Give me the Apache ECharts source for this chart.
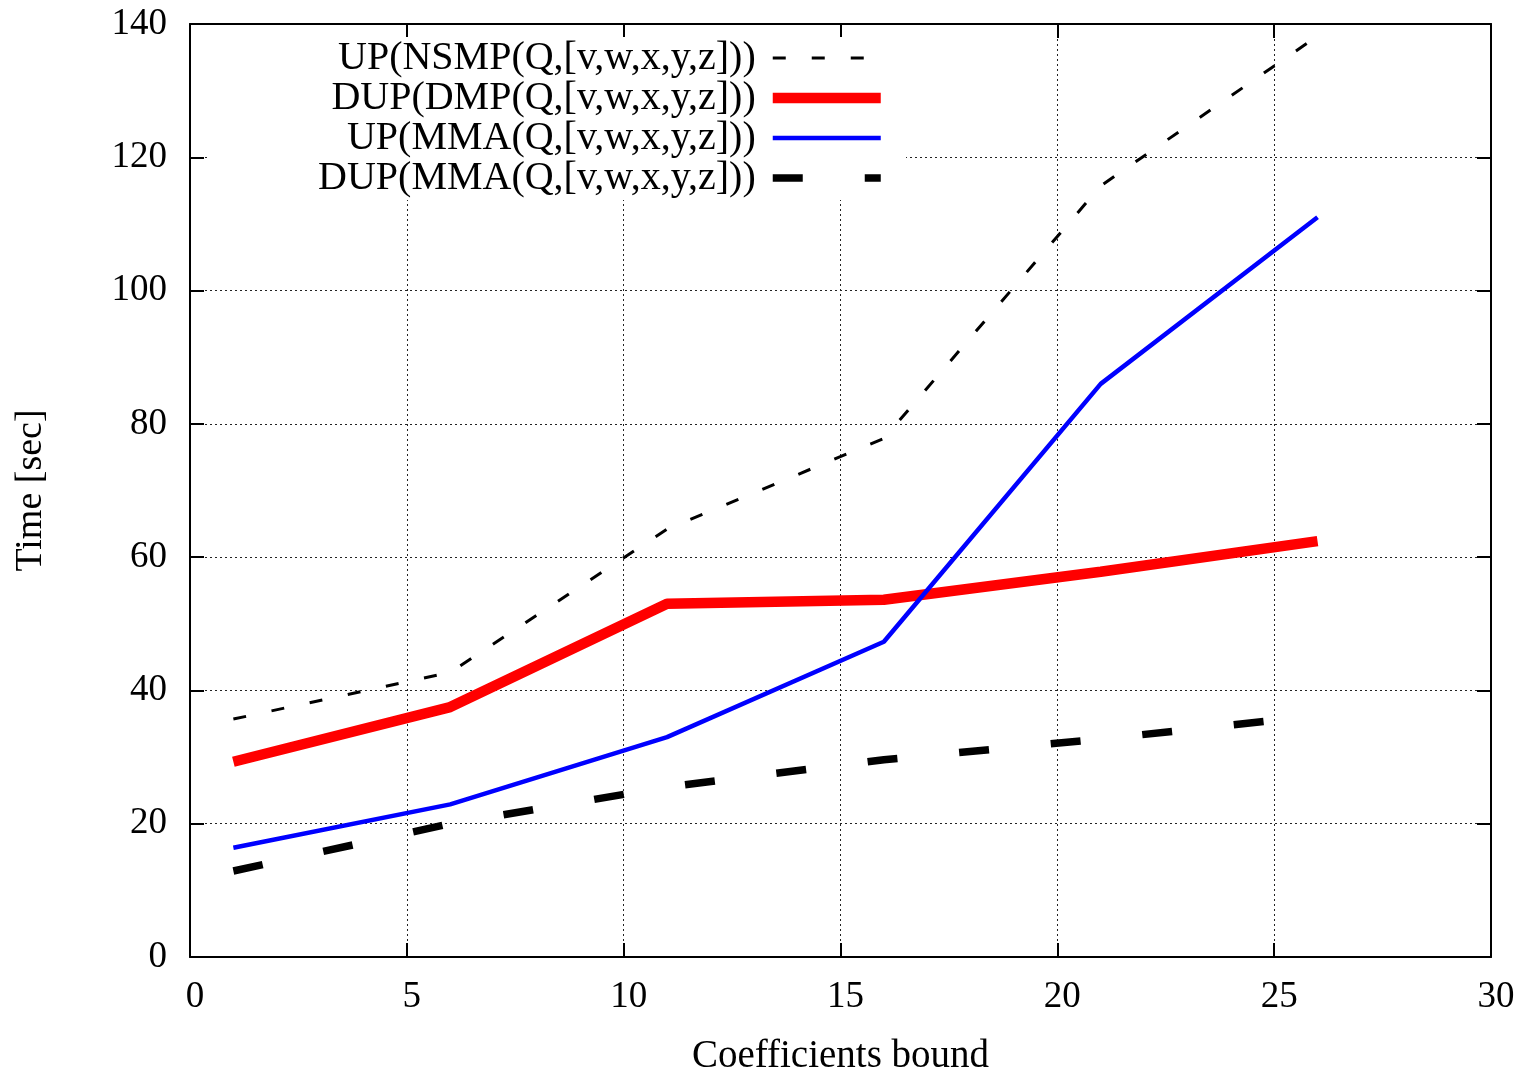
<!DOCTYPE html>
<html>
<head>
<meta charset="utf-8">
<script src="https://cdn.jsdelivr.net/npm/echarts@6/dist/echarts.min.js"></script>
<style>
  html, body { margin: 0; padding: 0; background: #fff; }
  #chart { width: 1523px; height: 1077px; }
</style>
</head>
<body>
<div id="chart"></div>
<script>
// ---- data ----
const xValues = [1, 6, 11, 16, 21, 26];
const seriesNames = [
  'UP(NSMP(Q,[v,w,x,y,z]))',
  'DUP(DMP(Q,[v,w,x,y,z]))',
  'UP(MMA(Q,[v,w,x,y,z]))',
  'DUP(MMA(Q,[v,w,x,y,z]))'
];
const upNsmp = [35.7, 42.7, 64.2, 77.8, 115.7, 138.2];
const dupDmp = [29.3, 37.5, 53.0, 53.6, 57.8, 62.4];
const upMma = [16.4, 22.9, 33.0, 47.3, 86.0, 111.0];
const dupMma = [12.9, 20.0, 25.5, 29.6, 32.7, 36.2];
const xAxisTitle = 'Coefficients bound';
const yAxisTitle = 'Time [sec]';
const xMin = 0, xMax = 30, xStep = 5;
const yMin = 0, yMax = 140, yStep = 20;

// ---- chart ----
const FONT = '"Liberation Serif", "DejaVu Serif", serif';
const pairs = arr => xValues.map((x, i) => [x, arr[i]]);

const styles = [
  { color: '#000000', width: 3, type: [13, 26] },
  { color: '#ff0000', width: 10.5, type: 'solid' },
  { color: '#0000ff', width: 4.5, type: 'solid' },
  { color: '#000000', width: 7.5, type: [30, 62] }
];
const dataSets = [upNsmp, dupDmp, upMma, dupMma];

const tickStyle = { show: true, inside: true, length: 14, lineStyle: { color: '#000', width: 2 } };
const splitStyle = { show: true, lineStyle: { color: '#222', width: 1, type: [2, 3] } };

const chart = echarts.init(document.getElementById('chart'), null, { renderer: 'canvas' });
chart.setOption({
  animation: false,
  backgroundColor: '#ffffff',
  grid: { left: 190, top: 24, right: 32, bottom: 120, show: false, containLabel: false, outerBoundsMode: 'none' },
  legend: {
    orient: 'vertical',
    align: 'right',
    right: 617,
    top: 37,
    backgroundColor: '#ffffff',
    padding: [1, 20, 2, 111],
    itemWidth: 108,
    itemHeight: 20,
    itemGap: 0,
    selectedMode: false,
    textStyle: { fontFamily: FONT, fontSize: 40, color: '#000', lineHeight: 39.3, padding: [0, 12, 0, 0] },
    data: seriesNames.map((n, i) => ({
      name: n,
      itemStyle: { opacity: 0, color: 'rgba(0,0,0,0)', borderWidth: 0 },
      lineStyle: { width: styles[i].width, type: styles[i].type, color: styles[i].color, opacity: 1 }
    }))
  },
  xAxis: [
    {
      type: 'value', position: 'bottom', min: xMin, max: xMax, interval: xStep,
      name: xAxisTitle, nameLocation: 'middle', nameGap: 80,
      nameTextStyle: { fontFamily: FONT, fontSize: 39, color: '#000' },
      axisLine: { show: true, onZero: false, lineStyle: { color: '#000', width: 2 } },
      axisTick: tickStyle,
      axisLabel: { fontFamily: FONT, fontSize: 37, color: '#000', margin: 22, padding: [0, 0, 0, 10] },
      splitLine: splitStyle
    },
    {
      type: 'value', position: 'top', min: xMin, max: xMax, interval: xStep,
      axisLine: { show: true, onZero: false, lineStyle: { color: '#000', width: 2 } },
      axisTick: tickStyle,
      axisLabel: { show: false },
      splitLine: { show: false }
    }
  ],
  yAxis: [
    {
      type: 'value', position: 'left', min: yMin, max: yMax, interval: yStep,
      name: yAxisTitle, nameLocation: 'middle', nameGap: 140, nameRotate: 90,
      nameTextStyle: { fontFamily: FONT, fontSize: 38, color: '#000' },
      axisLine: { show: true, onZero: false, lineStyle: { color: '#000', width: 2 } },
      axisTick: tickStyle,
      axisLabel: { fontFamily: FONT, fontSize: 37, color: '#000', margin: 23 },
      splitLine: splitStyle
    },
    {
      type: 'value', position: 'right', min: yMin, max: yMax, interval: yStep,
      axisLine: { show: true, onZero: false, lineStyle: { color: '#000', width: 2 } },
      axisTick: tickStyle,
      axisLabel: { show: false },
      splitLine: { show: false }
    }
  ],
  series: seriesNames.map((n, i) => ({
    name: n,
    type: 'line',
    xAxisIndex: 0,
    yAxisIndex: 0,
    data: pairs(dataSets[i]),
    symbol: 'none',
    showSymbol: false,
    lineStyle: { color: styles[i].color, width: styles[i].width, type: styles[i].type, cap: 'butt' },
    itemStyle: { color: styles[i].color },
    z: 2 + i
  }))
});
</script>
</body>
</html>
